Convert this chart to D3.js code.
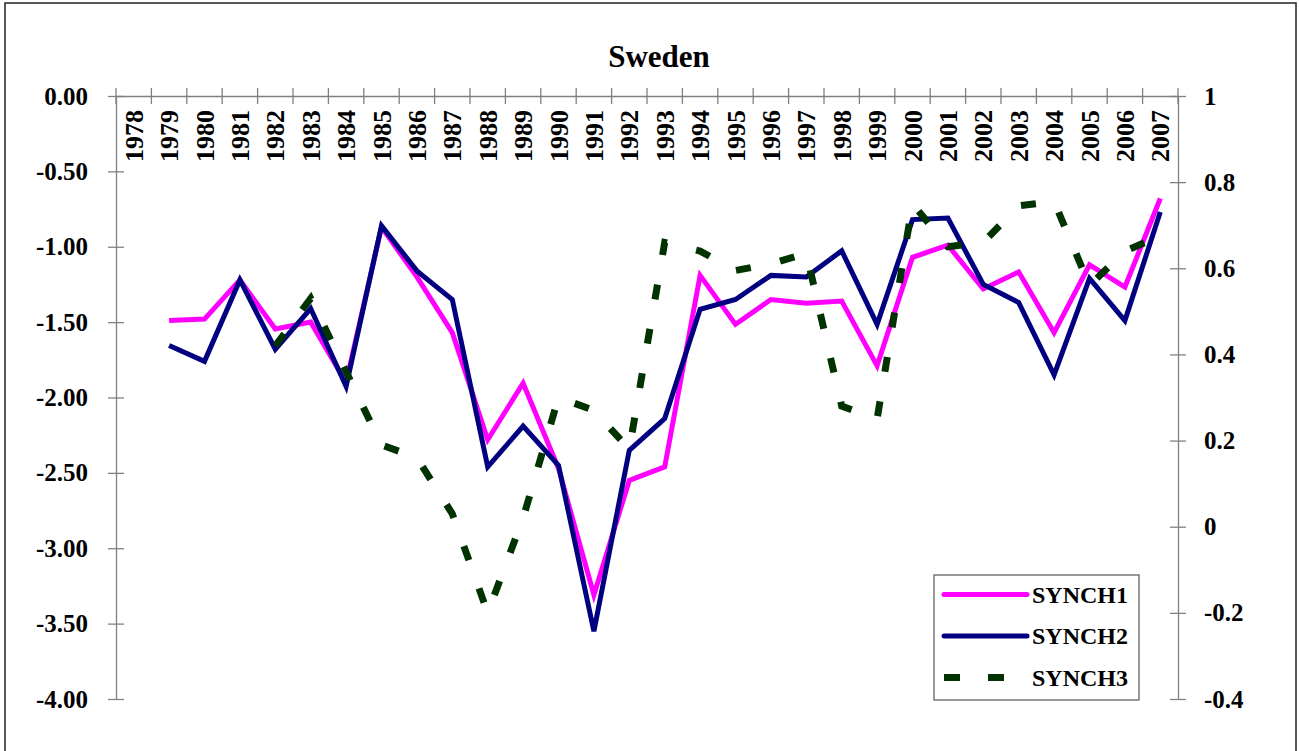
<!DOCTYPE html>
<html lang="en">
<head>
  <meta charset="UTF-8">
  <title>Sweden</title>
  <script src="https://d3js.org/d3.v7.min.js"></script>
  <style>
    body {
      margin: 0;
      padding: 0;
      background: white;
    }

    svg {
      display: block;
      background: white;
    }

    text {
      font-family: "Times New Roman", "Liberation Serif", serif;
      font-weight: bold;
      fill: black;
    }

    .axis path,
    .axis line {
      stroke: #808080;
      stroke-width: 1.3px;
    }
  </style>
</head>
<body>
  <script>
    // years on the category axis
    const years = d3.range(1978, 2008).map(String);

    // SYNCH1 and SYNCH2 (left axis), start in 1979
    const synch1Years = d3.range(1979, 2008).map(String);
    const synch1 = [-1.49, -1.48, -1.22, -1.545, -1.50, -1.90, -0.87, -1.20, -1.57, -2.28,
      -1.905, -2.47, -3.31, -2.55, -2.46, -1.19, -1.515, -1.35, -1.375, -1.36,
      -1.79, -1.07, -0.99, -1.28, -1.167, -1.57, -1.12, -1.267, -0.68];
    const synch2 = [-1.655, -1.76, -1.22, -1.68, -1.41, -1.927, -0.86, -1.16, -1.35, -2.46,
      -2.19, -2.45, -3.55, -2.35, -2.14, -1.415, -1.35, -1.19, -1.20, -1.027,
      -1.515, -0.82, -0.81, -1.25, -1.37, -1.85, -1.21, -1.49, -0.77];

    // SYNCH3 (right axis), starts in 1982
    const synch3Years = d3.range(1982, 2008).map(String);
    const synch3 = [0.42, 0.53, 0.36, 0.19, 0.16, 0.03, -0.20, 0.02, 0.30, 0.27,
      0.18, 0.66, 0.64, 0.595, 0.61, 0.635, 0.28, 0.25, 0.75, 0.65,
      0.66, 0.745, 0.755, 0.56, 0.64, 0.675];

    const leftTicks = [0, -0.5, -1, -1.5, -2, -2.5, -3, -3.5, -4];
    const rightTicks = [1, 0.8, 0.6, 0.4, 0.2, 0, -0.2, -0.4];

    const width = 1299;
    const height = 751;
    const plotLeft = 116, plotRight = 1178, plotTop = 96, plotBottom = 699;

    const svg = d3.select("body").append("svg")
      .attr("width", width)
      .attr("height", height);

    // outer frame
    svg.append("rect")
      .attr("x", 5).attr("y", 3)
      .attr("width", 1291).attr("height", 770)
      .attr("fill", "none")
      .attr("stroke", "#222")
      .attr("stroke-width", 1.5);

    const x = d3.scaleBand().domain(years).range([plotLeft, plotRight]).padding(0);
    const yL = d3.scaleLinear().domain([-4, 0]).range([plotBottom, plotTop]);
    const yR = d3.scaleLinear().domain([-0.4, 1]).range([plotBottom, plotTop]);
    const cx = d => x(d) + x.bandwidth() / 2;

    // plain hyphen for negatives, like the original
    const fmtL = d => d.toFixed(2).replace("\u2212", "-");
    const fmtR = d => String(+d.toFixed(1));

    // title
    svg.append("text")
      .attr("x", 659).attr("y", 67)
      .attr("text-anchor", "middle")
      .style("font-size", "31px")
      .text("Sweden");

    // left axis
    const gL = svg.append("g")
      .attr("class", "axis")
      .attr("transform", `translate(${plotLeft},0)`)
      .call(d3.axisLeft(yL).tickValues(leftTicks).tickFormat(fmtL).tickSizeOuter(0).tickPadding(22));
    gL.selectAll(".tick line").attr("x1", -8).attr("x2", 8);
    gL.selectAll("text").style("font-size", "25px").attr("fill", "black");

    // right axis
    const gR = svg.append("g")
      .attr("class", "axis")
      .attr("transform", `translate(${plotRight},0)`)
      .call(d3.axisRight(yR).tickValues(rightTicks).tickFormat(fmtR).tickSizeOuter(0).tickPadding(20));
    gR.selectAll(".tick line").attr("x1", -8).attr("x2", 8);
    gR.selectAll("text").style("font-size", "25px").attr("fill", "black");

    // category axis along the 0.00 line
    const gX = svg.append("g")
      .attr("class", "axis")
      .attr("transform", `translate(0,${yL(0)})`)
      .call(d3.axisBottom(x).tickSize(0).tickSizeOuter(0));
    gX.selectAll("text")
      .attr("transform", "rotate(-90)")
      .attr("x", -14)
      .attr("y", 0)
      .attr("dy", "0.35em")
      .attr("text-anchor", "end")
      .attr("fill", "black")
      .style("font-size", "26px");
    // tick marks at category boundaries
    gX.selectAll(".bound")
      .data(years.concat(["end"]))
      .enter().append("line")
      .attr("class", "bound")
      .attr("x1", (d, i) => i < years.length ? x(d) : plotRight)
      .attr("x2", (d, i) => i < years.length ? x(d) : plotRight)
      .attr("y1", -8).attr("y2", 8);

    // series
    const lineL = d3.line().x(d => cx(d[0])).y(d => yL(d[1]));
    const lineR = d3.line().x(d => cx(d[0])).y(d => yR(d[1]));

    svg.append("path")
      .datum(d3.zip(synch1Years, synch1))
      .attr("d", lineL)
      .attr("fill", "none")
      .attr("stroke", "#FF00FF")
      .attr("stroke-width", 5)
      .attr("stroke-linejoin", "miter");

    svg.append("path")
      .datum(d3.zip(synch1Years, synch2))
      .attr("d", lineL)
      .attr("fill", "none")
      .attr("stroke", "#000080")
      .attr("stroke-width", 5)
      .attr("stroke-linejoin", "miter");

    svg.append("path")
      .datum(d3.zip(synch3Years, synch3))
      .attr("d", lineR)
      .attr("fill", "none")
      .attr("stroke", "#003300")
      .attr("stroke-width", 7)
      .attr("stroke-dasharray", "15,30");

    // legend
    const legend = svg.append("g");
    legend.append("rect")
      .attr("x", 934).attr("y", 575)
      .attr("width", 205).attr("height", 125)
      .attr("fill", "white")
      .attr("stroke", "#555")
      .attr("stroke-width", 1.2);

    const legendItems = [
      { name: "SYNCH1", color: "#FF00FF", dash: null, w: 5 },
      { name: "SYNCH2", color: "#000080", dash: null, w: 5 },
      { name: "SYNCH3", color: "#003300", dash: "16,28", w: 7 }
    ];
    legendItems.forEach((d, i) => {
      const ly = 594.5 + i * 41.5;
      legend.append("line")
        .attr("x1", 944).attr("x2", d.dash ? 1004 : 1027)
        .attr("y1", ly).attr("y2", ly)
        .attr("stroke", d.color)
        .attr("stroke-width", d.w)
        .attr("stroke-linecap", d.dash ? "butt" : "round")
        .attr("stroke-dasharray", d.dash);
      legend.append("text")
        .attr("x", 1032).attr("y", ly)
        .attr("dy", "0.35em")
        .style("font-size", "24px")
        .text(d.name);
    });
  </script>
</body>
</html>
